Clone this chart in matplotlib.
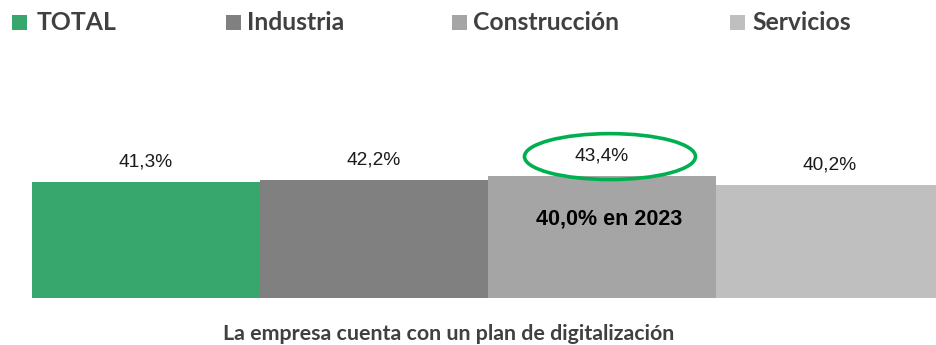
import matplotlib
matplotlib.use("Agg")
import matplotlib.pyplot as plt
from matplotlib.patches import Ellipse, Rectangle

categories = ["TOTAL", "Industria", "Construcción", "Servicios"]
values = [41.3, 42.2, 43.4, 40.2]
value_labels = ["41,3%", "42,2%", "43,4%", "40,2%"]
colors = ["#38A76E", "#808080", "#A5A5A5", "#BFBFBF"]
note_text = "40,0% en 2023"
title_text = "La empresa cuenta con un plan de digitalización"

W, H = 936, 345
fig = plt.figure(figsize=(W / 100, H / 100), dpi=100)

# Axes spans the four contiguous bars; the last bar runs off the right edge
ax_left, ax_right = 32, 944
ax_bottom_px, ax_height_px = 297.7, 168.0
ax = fig.add_axes([ax_left / W, (H - ax_bottom_px) / H,
                   (ax_right - ax_left) / W, ax_height_px / H])
ax.set_xlim(-0.5, 3.5)
ax.set_ylim(0, 60)
ax.axis("off")

x = range(len(categories))
ax.bar(x, values, width=1.0, color=colors, linewidth=0)

for i, (v, lab) in enumerate(zip(values, value_labels)):
    ax.text(i, v + 7.1, lab, ha="center", va="center", fontsize=13.8,
            family="Liberation Sans", color="#1a1a1a")

# Highlight around the Construcción value
ax.add_patch(Ellipse((2.035, values[2] + 7.0), 0.75, 16.4, fill=False,
                     edgecolor="#00B050", linewidth=2.6, clip_on=False))
ax.text(2.03, values[2] - 15.3, note_text, ha="center", va="center",
        fontsize=15.5, fontweight="bold", family="Liberation Sans",
        color="black")

# Legend row across the top
sq_x = [12, 226, 452, 730]
txt_x = [37, 247, 473, 752]
for sx, tx, c, name in zip(sq_x, txt_x, colors, categories):
    fig.patches.append(Rectangle((sx / W, (H - 30) / H), 15 / W, 15 / H,
                                 transform=fig.transFigure, facecolor=c,
                                 edgecolor="none"))
    fig.text(tx / W, (H - 30.5) / H, name, ha="left", va="baseline",
             fontsize=17.8, fontweight="bold", family="Lato", color="#404040")

fig.text(449 / W, (H - 340) / H, title_text, ha="center", va="baseline",
         fontsize=15.4, fontweight="bold", family="Lato", color="#404040")

fig.savefig("out.png", dpi=100, facecolor="white")
